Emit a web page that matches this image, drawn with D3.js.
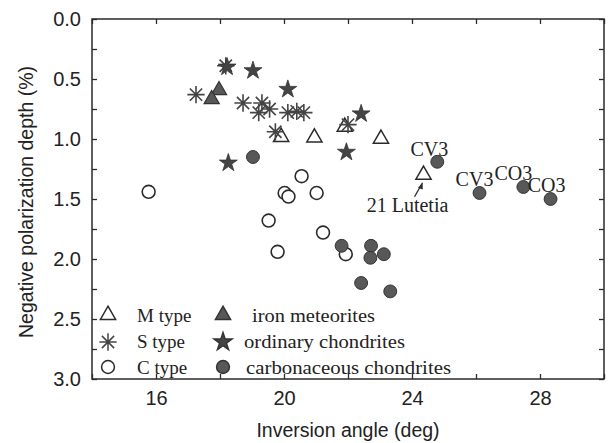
<!DOCTYPE html>
<html><head><meta charset="utf-8">
<script src="https://cdn.jsdelivr.net/npm/d3@7"></script>
<style>body{margin:0;background:#fff}svg{display:block}</style>
</head><body>
<svg id="c" width="608" height="443"></svg>
<script>
// ---- data ----
const mType = [[19.91,0.975],[20.95,0.98],[21.9,0.89],[23.03,0.99],[24.36,1.29]];
const sType = [[18.18,0.39],[17.25,0.63],[18.72,0.70],[19.31,0.70],[19.21,0.78],[19.55,0.75],[20.12,0.78],[20.4,0.77],[20.62,0.78],[19.73,0.94],[22.0,0.88]];
const cType = [[15.77,1.44],[20.55,1.31],[20.02,1.45],[20.14,1.48],[21.02,1.45],[19.52,1.68],[19.8,1.94],[21.22,1.78],[21.93,1.96]];
const ironMet = [[17.97,0.586],[17.74,0.66]];
const ordChon = [[18.22,0.40],[19.03,0.43],[20.12,0.586],[18.26,1.20],[22.41,0.79],[21.95,1.11]];
const carbChon = [[19.03,1.15],[24.79,1.19],[26.11,1.45],[27.48,1.40],[28.33,1.50],[21.8,1.89],[22.72,1.89],[22.70,1.99],[23.12,1.96],[22.41,2.20],[23.32,2.27]];
const xTicks = [14,16,18,20,22,24,26,28,30];
const xLabels = [16,20,24,28];
const yTicks = [0,0.25,0.5,0.75,1,1.25,1.5,1.75,2,2.25,2.5,2.75,3];
const yLabels = [0,0.5,1,1.5,2,2.5,3];
const annotations = [
  {text:"CV3", x:24.79, y:1.19, dx:-8, dy:-6},
  {text:"CV3", x:26.11, y:1.45, dx:-5, dy:-7},
  {text:"CO3", x:27.48, y:1.40, dx:-10, dy:-7},
  {text:"CO3", x:28.33, y:1.50, dx:-4, dy:-7},
  {text:"21 Lutetia", x:24.36, y:1.29, dx:-16, dy:38}
];

const svg = d3.select("#c");
const L=92,T=19,R=604,B=379;
const x = d3.scaleLinear().domain([14,30]).range([L,R]);
const y = d3.scaleLinear().domain([0,3]).range([T,B]);
const ink = "#2a2a2a", fillG = "#585858";
const sans = "Liberation Sans, Arial, sans-serif", serif = "Liberation Serif, Times New Roman, serif";

// frame
svg.append("rect").attr("x",L).attr("y",T).attr("width",R-L).attr("height",B-T)
  .attr("fill","none").attr("stroke",ink).attr("stroke-width",1.5);

const fmtX = d => xLabels.includes(d) ? d : "";
const fmtY = d => yLabels.some(v=>Math.abs(v-d)<1e-9) ? d3.format(".1f")(d) : "";

const gB = svg.append("g").attr("transform",`translate(0,${B})`)
  .call(d3.axisBottom(x).tickValues(xTicks).tickSize(-5).tickPadding(12).tickFormat(fmtX));
const gT = svg.append("g").attr("transform",`translate(0,${T})`)
  .call(d3.axisTop(x).tickValues(xTicks).tickSize(-5).tickFormat(""));
const gL = svg.append("g").attr("transform",`translate(${L},0)`)
  .call(d3.axisLeft(y).tickValues(yTicks).tickSize(-5).tickPadding(11).tickFormat(fmtY));
const gR = svg.append("g").attr("transform",`translate(${R},0)`)
  .call(d3.axisRight(y).tickValues(yTicks).tickSize(-5).tickFormat(""));
[gB,gT,gL,gR].forEach(g=>{
  g.select(".domain").remove();
  g.selectAll(".tick line").attr("stroke",ink).attr("stroke-width",1.3);
  g.selectAll("text").attr("font-family",sans).attr("font-size",20).attr("fill","#222");
});

// axis titles
svg.append("text").attr("x",(L+R)/2).attr("y",437).attr("text-anchor","middle")
  .attr("font-family",sans).attr("font-size",19.5).attr("fill","#222")
  .text("Inversion angle (deg)");
svg.append("text").attr("transform",`translate(33,${(T+B)/2+3}) rotate(-90)`).attr("text-anchor","middle")
  .attr("font-family",sans).attr("font-size",19.5).attr("fill","#222")
  .text("Negative polarization depth (%)");

// symbols
const asterisk = {draw(ctx,size){const r=Math.sqrt(size)/2;
  for(let i=0;i<4;i++){const a=i*Math.PI/4;ctx.moveTo(-r*Math.cos(a),-r*Math.sin(a));ctx.lineTo(r*Math.cos(a),r*Math.sin(a));}}};
const sym = {
  tri: d3.symbol(d3.symbolTriangle,100)(),
  star: d3.symbol(d3.symbolStar,100)(),
  circ: d3.symbol(d3.symbolCircle,130)(),
  ast: d3.symbol(asterisk,300)()
};
function plot(data, path, fill, stroke, sw, dy=0){
  svg.append("g").selectAll("path").data(data).join("path")
    .attr("d",path).attr("transform",d=>`translate(${x(d[0])},${y(d[1])+dy})`)
    .attr("fill",fill).attr("stroke",stroke).attr("stroke-width",sw);
}
plot(cType, sym.circ, "#fff", ink, 1.6);
plot(carbChon, sym.circ, fillG, "#333", 1);
plot(ironMet, sym.tri, fillG, "#333", 1.2, 1);
plot(mType, sym.tri, "none", ink, 1.5, 1);
plot(sType, sym.ast, "none", "#444", 1.6);
plot(ordChon, sym.star, "#444", "#333", 0.8);

// annotations
svg.append("g").selectAll("text").data(annotations).join("text")
  .attr("x",d=>x(d.x)+d.dx).attr("y",d=>y(d.y)+d.dy).attr("text-anchor","middle")
  .attr("font-family",serif).attr("font-size",20).attr("fill","#222")
  .text(d=>d.text);
// arrow to Lutetia
const lu = mType[4];
const ax0 = x(lu[0])-9, ay0 = y(lu[1])+23, ax1 = x(lu[0])-1, ay1 = y(lu[1])+9;
svg.append("line").attr("x1",ax0).attr("y1",ay0).attr("x2",ax1).attr("y2",ay1).attr("stroke",ink).attr("stroke-width",1.3);
svg.append("path").attr("d",`M${ax1},${ay1} l-4.5,5 l4.8,1.8 z`).attr("fill",ink);

// legend
const legendRows = [
  [{p:sym.tri,f:"none",s:ink,t:"M type"},{p:sym.tri,f:fillG,s:"#333",t:"iron meteorites",x:252,w:123}],
  [{p:sym.ast,f:"none",s:"#444",t:"S type"},{p:sym.star,f:"#444",s:"#333",t:"ordinary chondrites",x:244,w:161}],
  [{p:sym.circ,f:"#fff",s:ink,t:"C type"},{p:sym.circ,f:fillG,s:"#333",t:"carbonaceous chondrites",x:246,w:205}]
];
const legY=[315,342,367];
const legBase=[322,348,374];
legendRows.forEach((row,i)=>{
  [108,223].forEach((cx,j)=>{
    const it=row[j];
    svg.append("path").attr("d",it.p).attr("transform",`translate(${cx},${legY[i]})`)
      .attr("fill",it.f).attr("stroke",it.s).attr("stroke-width",1.5);
    const t = svg.append("text").attr("x",j?it.x:137).attr("y",legBase[i])
      .attr("font-family",serif).attr("font-size",19).attr("fill","#222")
      .text(it.t);
    if(j) t.attr("textLength",it.w).attr("lengthAdjust","spacingAndGlyphs");
  });
});
</script>
</body></html>
